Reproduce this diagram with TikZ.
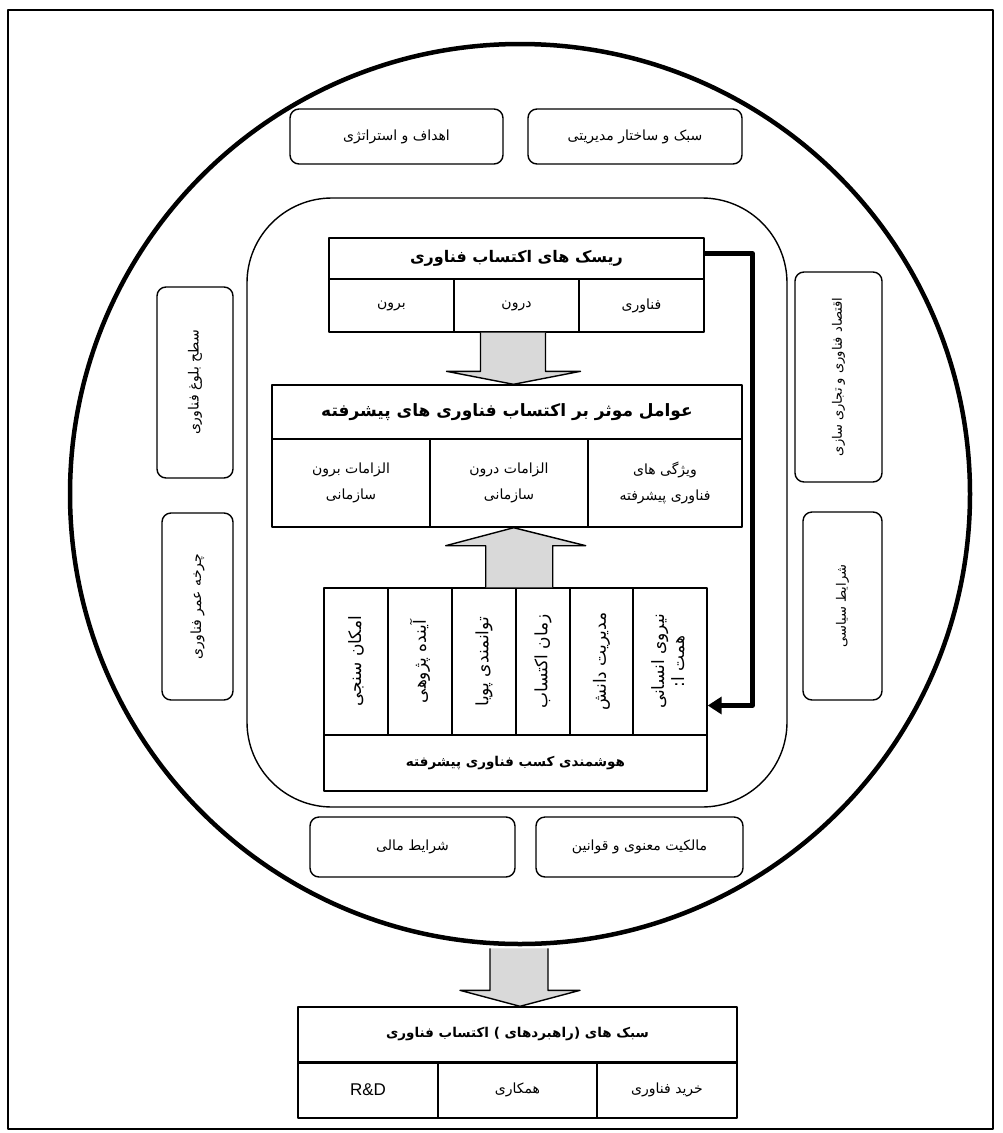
\documentclass[tikz,border=0pt]{standalone}
\usepackage{fontspec}
\usepackage{graphicx}
\usetikzlibrary{arrows.meta,calc}
\TeXXeTstate=1
\newfontfamily\arabicfont[Script=Arabic]{DejaVu Sans}
\newfontfamily\latinfont{Liberation Sans}
\newcommand\fa[1]{{\arabicfont\beginR #1\endR}}
\newcommand\vfa[1]{\rotatebox{90}{\fa{#1}}}
\begin{document}
\begin{tikzpicture}[x=1pt,y=-1pt,line join=round,font=\fontsize{14}{26}\selectfont,
 rbox/.style={draw,line width=1.4pt,rounded corners=9pt,inner sep=0pt,align=center},
 cell/.style={draw,line width=1.4pt,inner sep=0pt,align=center},
 col/.style={cell,minimum height=147,font=\fontsize{17}{20}\selectfont},
 garrow/.style={draw,line width=1.4pt,fill=gray!30},
 conn/.style={line width=4.5pt,-{Triangle[length=14pt,width=17pt]}}]
 \useasboundingbox (0,0) rectangle (1003,1133);
 \draw[line width=1.2pt] (8,10) rectangle (993,1129);
 \node[draw,circle,line width=4.5pt,minimum size=900,inner sep=0pt] (ring) at (520,494) {};
 \draw[line width=1.4pt,rounded corners=85pt] (247,198) rectangle (787,807);
 % outer factors
 \node[rbox,minimum width=213,minimum height=55] (goals) at (396.5,136.5) {\fa{اهداف و استراتژی}};
 \node[rbox,minimum width=214,minimum height=55] (mgmt) at (635,136.5) {\fa{سبک و ساختار مدیریتی}};
 \node[rbox,minimum width=76,minimum height=191] (maturity) at (195,382.5) {\vfa{سطح بلوغ فناوری}};
 \node[rbox,minimum width=71,minimum height=187] (lifecycle) at (197.5,606.5) {\vfa{چرخه عمر فناوری}};
 \node[rbox,font=\fontsize{13}{16}\selectfont,minimum width=87,minimum height=210] (econ) at (838.5,377) {\vfa{اقتصاد فناوری و تجاری سازی}};
 \node[rbox,font=\fontsize{13}{16}\selectfont,minimum width=79,minimum height=188] (politics) at (842.5,606) {\vfa{شرایط سیاسی}};
 \node[rbox,minimum width=205,minimum height=60] (finance) at (412.5,847) {\fa{شرایط مالی}};
 \node[rbox,minimum width=207,minimum height=60] (ip) at (639.5,847) {\fa{مالکیت معنوی و قوانین}};
 % risks
 \node[cell,font=\fontsize{16}{20}\selectfont\bfseries,minimum width=375,minimum height=41] (rhead) at (516.5,258.5) {\fa{ریسک های اکتساب فناوری}};
 \node[cell,minimum width=125,minimum height=53] (rleft) at (391.5,305.5) {\fa{برون}};
 \node[cell,minimum width=125,minimum height=53] (rmid) at (516.5,305.5) {\fa{درون}};
 \node[cell,minimum width=125,minimum height=53] (rright) at (641.5,305.5) {\fa{فناوری}};
 % factors
 \node[cell,font=\fontsize{17}{20}\selectfont\bfseries,minimum width=470,minimum height=54] (fhead) at (507,412) {\fa{عوامل موثر بر اکتساب فناوری های پیشرفته}};
 \node[cell,minimum width=158,minimum height=88] (fleft) at (351,483) {\fa{الزامات برون}\\\fa{سازمانی}};
 \node[cell,minimum width=158,minimum height=88] (fmid) at (509,483) {\fa{الزامات  درون}\\\fa{سازمانی}};
 \node[cell,minimum width=154,minimum height=88] (fright) at (665,483) {\fa{ویژگی های}\\\fa{فناوری پیشرفته}};
 % intelligence
 \node[col,minimum width=64] (c1) at (356,661.5) {\vfa{امکان سنجی}};
 \node[col,minimum width=64] (c2) at (420,661.5) {\vfa{آینده پژوهی}};
 \node[col,minimum width=64] (c3) at (484,661.5) {\vfa{توانمندی پویا}};
 \node[col,minimum width=54] (c4) at (543,661.5) {\vfa{زمان اکتساب}};
 \node[col,minimum width=63] (c5) at (601.5,661.5) {\vfa{مدیریت دانش}};
 \node[col,minimum width=74] (c6) at (670,661.5)
   {\rotatebox{90}{\begin{tabular}{@{}c@{}}\fa{نیروی انسانی}\\\fa{همت ا:}\end{tabular}}};
 \node[cell,font=\fontsize{13.5}{16}\selectfont\bfseries,minimum width=383,minimum height=56] (smart) at (515.5,763) {\fa{هوشمندی کسب فناوری پیشرفته}};
 % strategies
 \node[cell,font=\fontsize{13.5}{16}\selectfont\bfseries,minimum width=439,minimum height=55] (shead) at (517.5,1034.5) {\fa{سبک های (راهبردهای ) اکتساب فناوری}};
 \node[cell,minimum width=140,minimum height=56] (s1) at (368,1090) {\fontsize{17}{20}\selectfont\latinfont R\&D};
 \node[cell,minimum width=159,minimum height=56] (s2) at (517.5,1090) {\fa{همکاری}};
 \node[cell,minimum width=140,minimum height=56] (s3) at (667,1090) {\fa{خرید فناوری}};
 \draw[line width=2.6pt] (shead.south west) -- (shead.south east);
 % block arrows
 \draw[garrow] let \p1=(rmid.south), \p2=(fhead.north) in
  (\x1-36pt,\y1) -- (\x1-36pt,\y2+13pt) -- (\x1-70pt,\y2+13pt) -- (\x1-3pt,\y2)
  -- (\x1+64pt,\y2+13pt) -- (\x1+29pt,\y2+13pt) -- (\x1+29pt,\y1);
 \draw[garrow] let \p1=(c3.north east), \p2=(fmid.south) in
  (\x1-31pt,\y1) -- (\x1-31pt,\y2-18pt) -- (\x1-71pt,\y2-18pt) -- (\x1-3pt,\y2)
  -- (\x1+69pt,\y2-18pt) -- (\x1+36pt,\y2-18pt) -- (\x1+36pt,\y1);
 \draw[garrow] let \p1=(ring.south), \p2=(shead.north) in
  (\x1-30pt,\y1-2pt) -- (\x1-30pt,\y2+16pt) -- (\x1-60pt,\y2+16pt) -- (\x1,\y2)
  -- (\x1+60pt,\y2+16pt) -- (\x1+28pt,\y2+16pt) -- (\x1+28pt,\y1-2pt);
 \draw[conn] ([yshift=5pt]rhead.east) -- ++(48,0) |- ([yshift=-44pt]c6.east);
\end{tikzpicture}
\end{document}
